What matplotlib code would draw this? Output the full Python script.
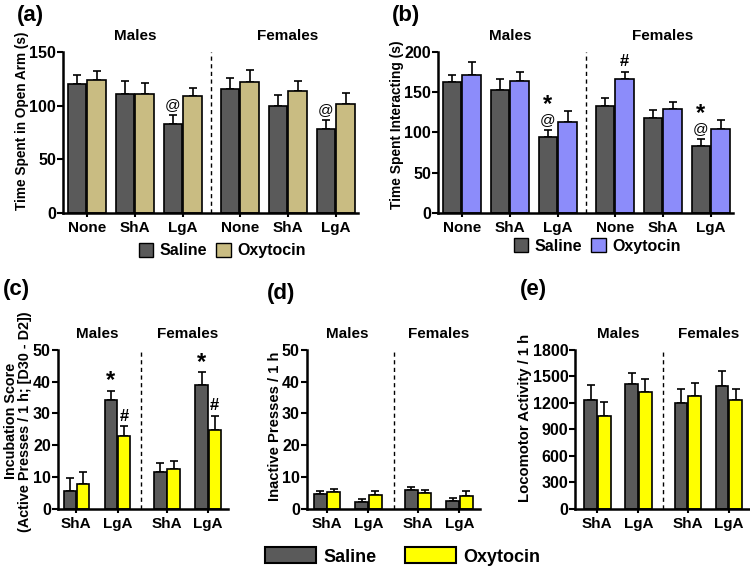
import numpy as np
import matplotlib
matplotlib.use("Agg")
import matplotlib.pyplot as plt
from matplotlib.patches import Patch

plt.rcParams['font.family'] = ['Liberation Sans', 'DejaVu Sans']
plt.rcParams['font.weight'] = 'bold'
plt.rcParams['axes.labelweight'] = 'bold'
NARROW = ['Liberation Sans Narrow', 'Liberation Sans', 'DejaVu Sans']

SAL = '#5a5a5a'

# (a) time in open arm: males None/ShA/LgA, females None/ShA/LgA
a_groups = ['None', 'ShA', 'LgA', 'None', 'ShA', 'LgA']
a_sal = [120.6, 111.3, 82.9, 115.4, 99.6, 78.3]
a_sal_err = [8.1, 11.8, 8.7, 10.2, 10.5, 8.3]
a_oxy = [123.7, 111.3, 108.9, 121.9, 113.8, 101.8]
a_oxy_err = [8.7, 9.9, 8.0, 11.1, 9.3, 10.2]

# (b) time spent interacting
b_sal = [162.7, 153.1, 94.6, 132.8, 117.8, 83.4]
b_sal_err = [9.1, 13.3, 8.7, 9.9, 10.4, 8.7]
b_oxy = [171.8, 163.5, 112.4, 166.4, 129.0, 104.1]
b_oxy_err = [15.8, 11.2, 13.7, 9.1, 8.8, 11.7]

# (c) incubation score, (d) inactive presses, (e) locomotor
cde_groups = ['ShA', 'LgA', 'ShA', 'LgA']
c_sal = [5.75, 34.3, 11.5, 39.0]
c_sal_err = [3.9, 2.9, 2.8, 3.9]
c_oxy = [7.8, 23.0, 12.6, 24.9]
c_oxy_err = [3.9, 2.9, 2.3, 4.2]

d_sal = [4.7, 2.2, 5.9, 2.4]
d_sal_err = [0.9, 0.9, 1.1, 0.9]
d_oxy = [5.2, 4.3, 5.0, 4.1]
d_oxy_err = [0.9, 1.4, 1.0, 1.5]

e_sal = [1232, 1410, 1195, 1385]
e_sal_err = [167, 127, 160, 174]
e_oxy = [1054, 1318, 1281, 1232]
e_oxy_err = [160, 148, 141, 123]

fig = plt.figure(figsize=(7.5, 5.66), dpi=100)


def panel(rect, groups, sal, sal_err, oxy, oxy_err, oxy_color, pos, xlim,
          divider, width, ylim, yticks, ylabel, ylsize, marks):
    ax = fig.add_axes(rect)
    pos = np.array(pos)
    for x, v, e, c in [(pos - width / 2 - 0.01, sal, sal_err, SAL),
                       (pos + width / 2 + 0.01, oxy, oxy_err, oxy_color)]:
        ax.bar(x, v, width, color=c, edgecolor='black', linewidth=1.2, zorder=2)
        ax.errorbar(x, v, yerr=[np.zeros(len(v)), e], fmt='none', ecolor='black',
                    elinewidth=1.2, capsize=3, capthick=1.2, zorder=1)
    ax.axvline(divider, color='black', linestyle=(0, (3, 2.5)), linewidth=1)
    ax.set_xlim(*xlim)
    ax.set_ylim(*ylim)
    ax.set_yticks(yticks)
    ax.set_xticks(pos)
    ax.set_xticklabels(groups, fontsize=11, fontweight='bold')
    ax.tick_params(axis='y', labelsize=11.5, width=1.5, length=4, pad=1)
    ax.tick_params(axis='x', width=1.5, length=3, pad=3)
    for s in ['top', 'right']:
        ax.spines[s].set_visible(False)
    for s in ['left', 'bottom']:
        ax.spines[s].set_linewidth(1.8)
    ax.set_ylabel(ylabel, fontsize=ylsize, family=NARROW, linespacing=1.0)
    nm = len(pos) // 2
    ax.text(pos[:nm].mean(), 1.1, 'Males', transform=ax.get_xaxis_transform(),
            ha='center', va='center', fontsize=11)
    ax.text(pos[nm:].mean(), 1.1, 'Females', transform=ax.get_xaxis_transform(),
            ha='center', va='center', fontsize=11)
    for i, which, txt in marks:
        if which == 's':
            x, top = pos[i] - width / 2 - 0.01, sal[i] + sal_err[i]
        else:
            x, top = pos[i] + width / 2 + 0.01, oxy[i] + oxy_err[i]
        off = 2
        for t in txt.split():
            if t == '@':
                ax.annotate(t, (x, top), xytext=(0, off), textcoords='offset points',
                            ha='center', va='bottom', fontsize=11, fontweight='normal')
                off += 11
            elif t == '*':
                ax.annotate(t, (x, top), xytext=(0, off - 3), textcoords='offset points',
                            ha='center', va='bottom', fontsize=17, fontweight='bold')
                off += 12
            else:
                ax.annotate(t, (x, top), xytext=(0, off), textcoords='offset points',
                            ha='center', va='bottom', fontsize=12, fontweight='bold')
                off += 12
    return ax


pos6 = [0, 1, 2, 3.19, 4.19, 5.19]
pos4 = [0, 1, 2.2, 3.2]

ax_a = panel([0.084, 0.624, 0.393, 0.284], a_groups, a_sal, a_sal_err, a_oxy, a_oxy_err,
             '#c9bc82', pos6, (-0.5, 5.65), 2.58, 0.39, (0, 150), [0, 50, 100, 150],
             'Time Spent in Open Arm (s)', 9.8, [(2, 's', '@'), (5, 's', '@')])
ax_b = panel([0.584, 0.624, 0.393, 0.284], a_groups, b_sal, b_sal_err, b_oxy, b_oxy_err,
             '#8c8cfa', pos6, (-0.5, 5.65), 2.58, 0.39, (0, 200), [0, 50, 100, 150, 200],
             'Time Spent Interacting (s)', 9.9,
             [(2, 's', '@ *'), (5, 's', '@ *'), (3, 'o', '#')])
ax_c = panel([0.077, 0.101, 0.227, 0.281], cde_groups, c_sal, c_sal_err, c_oxy, c_oxy_err,
             '#ffff00', pos4, (-0.45, 3.68), 1.58, 0.3, (0, 50), [0, 10, 20, 30, 40, 50],
             'Incubation Score\n(Active Presses / 1 h; [D30 - D2])', 10.4,
             [(1, 's', '*'), (3, 's', '*'), (1, 'o', '#'), (3, 'o', '#')])
ax_d = panel([0.409, 0.101, 0.231, 0.281], cde_groups, d_sal, d_sal_err, d_oxy, d_oxy_err,
             '#ffff00', pos4, (-0.49, 3.7), 1.61, 0.31, (0, 50), [0, 10, 20, 30, 40, 50],
             'Inactive Presses / 1 h', 10.6, [])
ax_e = panel([0.767, 0.101, 0.231, 0.281], cde_groups, e_sal, e_sal_err, e_oxy, e_oxy_err,
             '#ffff00', pos4, (-0.54, 3.68), 1.59, 0.31, (0, 1800),
             [0, 300, 600, 900, 1200, 1500, 1800], 'Locomotor Activity / 1 h', 10.7, [])

ax_a.yaxis.set_label_coords(-0.115, 0.57)
ax_b.yaxis.set_label_coords(-0.115, 0.55)
ax_c.yaxis.set_label_coords(-0.15, 0.55)
ax_d.yaxis.set_label_coords(-0.14, 0.52)
ax_e.yaxis.set_label_coords(-0.25, 0.57)

for ax, col, yb in [(ax_a, '#c9bc82', -0.15), (ax_b, '#8c8cfa', -0.12)]:
    h = [Patch(facecolor=SAL, edgecolor='black', linewidth=1),
         Patch(facecolor=col, edgecolor='black', linewidth=1)]
    ax.legend(h, ['Saline', 'Oxytocin'], loc='upper center', bbox_to_anchor=(0.54, yb),
              ncol=2, frameon=False, fontsize=11.5, handlelength=0.9, handleheight=0.9,
              handletextpad=0.4, columnspacing=0.6, borderaxespad=0)

h = [Patch(facecolor=SAL, edgecolor='black', linewidth=1.5),
     Patch(facecolor='#ffff00', edgecolor='black', linewidth=1.5)]
fig.legend(h, ['Saline', 'Oxytocin'], loc='center', bbox_to_anchor=(0.537, 0.017),
           ncol=2, frameon=False, fontsize=13, handlelength=2.8, handleheight=1.0,
           handletextpad=0.4, columnspacing=1.6, borderaxespad=0, borderpad=0)

for txt, x, y in [('(a)', 0.022, 0.973), ('(b)', 0.523, 0.973), ('(c)', 0.004, 0.488),
                  ('(d)', 0.356, 0.482), ('(e)', 0.693, 0.488)]:
    fig.text(x, y, txt, fontsize=16, fontweight='bold', va='center', ha='left')

fig.savefig('out.png', dpi=100)
